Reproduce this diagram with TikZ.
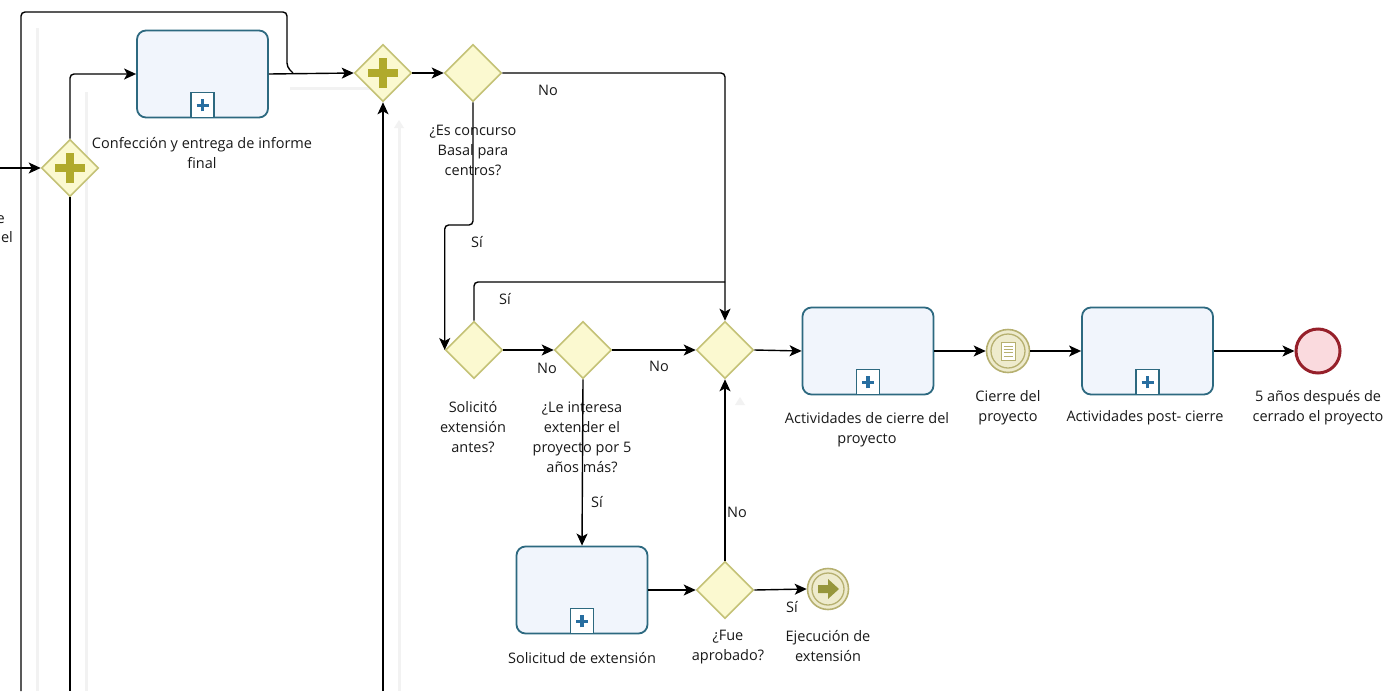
\documentclass[tikz,border=0pt]{standalone}
\usepackage{fontspec}
\setmainfont{Open Sans}
\usetikzlibrary{shapes.geometric,arrows.meta}
\definecolor{tk}{RGB}{45,105,128}
\definecolor{taskfill}{RGB}{241,245,252}
\definecolor{gwb}{RGB}{196,194,118}
\definecolor{gwf}{RGB}{251,249,208}
\definecolor{plusc}{RGB}{176,170,44}
\definecolor{plusb}{RGB}{40,110,160}
\definecolor{evb}{RGB}{182,176,112}
\definecolor{evf}{RGB}{238,235,205}
\definecolor{arrc}{RGB}{150,150,60}
\definecolor{endb}{RGB}{150,32,42}
\definecolor{endf}{RGB}{250,218,222}
\definecolor{txt}{RGB}{25,25,25}
\definecolor{shad}{RGB}{242,242,242}
\newcommand\tmarker[1]{%
  \node[draw=tk, line width=1.3pt, fill=white, minimum width=23pt, minimum height=25pt, inner sep=0, anchor=south] (#1m) at (#1.south) {};
  \draw[plusb, line width=3.5pt] ([xshift=-6pt]#1m.center) -- ([xshift=6pt]#1m.center) ([yshift=-6pt]#1m.center) -- ([yshift=6pt]#1m.center);}
\newcommand\gplus[1]{%
  \draw[plusc, line width=8.5pt] ([xshift=-15pt]#1.center) -- ([xshift=15pt]#1.center) ([yshift=-15pt]#1.center) -- ([yshift=15pt]#1.center);}
\begin{document}
\begin{tikzpicture}[x=1pt,y=-1pt,
  task/.style={draw=tk, line width=1.8pt, fill=taskfill, rounded corners=9pt, minimum width=131pt, minimum height=87pt, inner sep=0},
  gw/.style={diamond, aspect=1, draw=gwb, fill=gwf, line width=1.6pt, minimum width=57pt, minimum height=57pt, inner sep=0},
  flow/.style={draw=black, line width=1.4pt, -{Stealth[length=12pt,width=11pt,inset=3pt]}, rounded corners=4pt},
  conn/.style={draw=black, line width=1.4pt, rounded corners=4pt},
  lbl/.style={font=\fontsize{14.5}{20}\selectfont, text=txt, align=center, inner sep=0},
  ievent/.style={circle, draw=evb, line width=1.6pt, fill=evf, minimum size=43pt, inner sep=0},
  shadowline/.style={draw=shad, line width=3pt}]
\useasboundingbox (0,0) rectangle (1391,691);
\clip (0,0) rectangle (1391,691);
\fill[white] (0,0) rectangle (1391,691);
% faint shadows
\draw[shadowline] (37,28) -- (37,691);
\draw[shadowline] (86,92) -- (86,691);
\draw[shadowline] (290,88) -- (392,88);
\draw[shadowline] (399,128) -- (399,691);
\fill[shad] (394,128) -- (399,120) -- (404,128) -- cycle;
\fill[shad] (735,405) -- (740,397) -- (745,405) -- cycle;
% nodes
\node[gw] (g1) at (70,168) {};
\node[task] (t1) at (202.5,74) {};
\node[gw] (g2) at (383,73) {};
\node[gw] (x1) at (473,73) {};
\node[gw] (x2) at (474,350) {};
\node[gw] (x3) at (583,350) {};
\node[gw] (m) at (725,350) {};
\node[task] (t2) at (582,590) {};
\node[gw] (x4) at (725,590) {};
\node[ievent, minimum size=41pt] (e1) at (828,589) {};
\draw[evb, line width=1.3pt] (e1.center) circle (16pt);
\fill[arrc, shift={(e1.center)}] (-10,-4) -- (0,-4) -- (0,-10) -- (11,0) -- (0,10) -- (0,4) -- (-10,4) -- cycle;
\node[task] (t3) at (868,351) {};
\node[ievent] (e2) at (1008,351) {};
\draw[evb, line width=1.3pt] (e2.center) circle (17pt);
\draw[evb, line width=1pt, fill=white, shift={(e2.center)}] (-7,-9) rectangle (7,9);
\draw[evb, line width=1pt, shift={(e2.center)}] (-4.5,-5) -- (4.5,-5) (-4.5,-1.7) -- (4.5,-1.7) (-4.5,1.7) -- (4.5,1.7) (-4.5,5) -- (4.5,5);
\node[task] (t4) at (1147.5,351) {};
\node[circle, draw=endb, line width=3pt, fill=endf, minimum size=44pt, inner sep=0] (e3) at (1318,351) {};
\tmarker{t1}\tmarker{t2}\tmarker{t3}\tmarker{t4}
\gplus{g1}\gplus{g2}
% labels
\node[lbl, anchor=east] (cl1) at (5,218) {de};
\node[lbl, anchor=east] (cl2) at (13,237) {del};
\node[lbl] (lt1) at (202,153) {Confección y entrega de informe\\final};
\node[lbl] (lx1) at (473,150) {¿Es concurso\\Basal para\\centros?};
\node[lbl] (lx2) at (473,427) {Solicitó\\extensión\\antes?};
\node[lbl] (lx3) at (582,437) {¿Le interesa\\extender el\\proyecto por 5\\años más?};
\node[lbl] (lt2) at (582,658) {Solicitud de extensión};
\node[lbl] (lx4) at (728,647) {¿Fue\\aprobado?};
\node[lbl] (le1) at (828,646) {Ejecución de\\extensión};
\node[lbl] (lt3) at (867,430) {Actividades de cierre del\\proyecto};
\node[lbl] (le2) at (1008,408) {Cierre del\\proyecto};
\node[lbl] (lt4) at (1145,418) {Actividades post- cierre};
\node[lbl] (le3) at (1318,408) {5 años después de\\cerrado el proyecto};
% coordinates
\coordinate (in0) at (0,168);
\coordinate (gb1) at (70,691);
\coordinate (ob) at (21,691);
\coordinate (gb2) at (383,691);
% connectors
\draw[flow] (in0) -- (g1.west);
\draw[flow] (g1.north) |- (t1.west);
\draw[conn] (g1.south) -- (gb1);
\draw[conn] (ob) -- (21,12) -- (287,12) -- (287,67) -- (293,73);
\draw[flow] (t1.east) -- (g2.west);
\draw[flow] (gb2) -- (g2.south);
\draw[flow] (g2.east) -- (x1.west);
\draw[flow] (x1.east) -| (m.north);
\draw[flow] (x1.south) -- (473,225) -| (x2.west);
\draw[conn] (x2.north) |- (725,282);
\draw[flow] (x2.east) -- (x3.west);
\draw[flow] (x3.east) -- (m.west);
\draw[flow] (x3.south) -- (t2.north);
\draw[flow] (t2.east) -- (x4.west);
\draw[flow] (x4.north) -- (m.south);
\draw[flow] (x4.east) -- (e1.west);
\draw[flow] (m.east) -- (t3.west);
\draw[flow] (t3.east) -- (e2.west);
\draw[flow] (e2.east) -- (t4.west);
\draw[flow] (t4.east) -- (e3.west);
% edge labels
\node[lbl] (n1) at (548,90) {No};
\node[lbl] (s1) at (477,242) {Sí};
\node[lbl] (s2) at (505,299) {Sí};
\node[lbl] (n2) at (547,368) {No};
\node[lbl] (n3) at (659,366) {No};
\node[lbl] (s3) at (597,502) {Sí};
\node[lbl] (n4) at (737,512) {No};
\node[lbl] (s4) at (792,607) {Sí};
\end{tikzpicture}
\end{document}
